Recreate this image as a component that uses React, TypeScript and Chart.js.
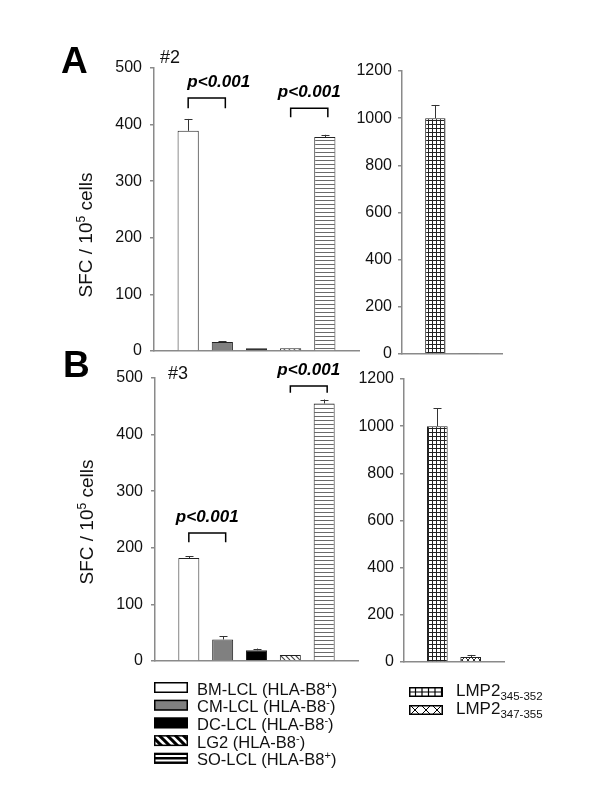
import React, { useEffect, useRef } from 'react';
import { Chart, registerables } from 'chart.js';

Chart.register(...registerables);

const FONT = '"Liberation Sans", Arial, Helvetica, sans-serif';
Chart.defaults.font.family = FONT;

// ---------- data ----------
const cellLines = ['BM-LCL', 'CM-LCL', 'DC-LCL', 'LG2', 'SO-LCL'];
const hlaB8 = ['+', '-', '-', '-', '+'];
const peptides = ['LMP2', 'LMP2'];
const peptideRanges = ['345-352', '347-355'];

const donor2Cells = [389, 16, 5, 5, 378];
const donor2CellsErr = [21, 1.5, 0, 0, 4];
const donor2Peptides = [1000, 4];
const donor2PeptidesErr = [56, 0];

const donor3Cells = [182, 38, 19, 10.6, 455];
const donor3CellsErr = [3.5, 6, 3, 0, 7];
const donor3Peptides = [1000, 21];
const donor3PeptidesErr = [77, 9];

const cellTicks = [0, 100, 200, 300, 400, 500];
const peptideTicks = [0, 200, 400, 600, 800, 1000, 1200];

const pLabel = 'p<0.001';
// brackets: pairs of cell-line indices and their y levels (top, leg end)
const donor2Brackets = [
  { a: 0, b: 1, top: 447, leg: 429 },
  { a: 3, b: 4, top: 429, leg: 413 },
];
const donor3Brackets = [
  { a: 0, b: 1, top: 226, leg: 210 },
  { a: 3, b: 4, top: 486, leg: 474 },
];

// ---------- styles ----------
const cellFills = ['white', 'gray', 'black', 'diag', 'hstripe'];
const peptideFills = ['grid', 'xhatch'];

function tile(ctx: CanvasRenderingContext2D, w: number, h: number, draw: (g: CanvasRenderingContext2D) => void) {
  const c = document.createElement('canvas');
  c.width = w;
  c.height = h;
  const g = c.getContext('2d')!;
  g.fillStyle = '#fff';
  g.fillRect(0, 0, w, h);
  draw(g);
  return ctx.createPattern(c, 'repeat');
}

function makeFill(ctx: CanvasRenderingContext2D, kind: string): any {
  switch (kind) {
    case 'white':
      return '#ffffff';
    case 'gray':
      return '#808080';
    case 'black':
      return '#000000';
    case 'hstripe':
      return tile(ctx, 4, 4, (g) => {
        g.fillStyle = '#6a6a6a';
        g.fillRect(0, 0, 4, 1);
      });
    case 'diag':
      return tile(ctx, 5, 5, (g) => {
        g.strokeStyle = '#444';
        g.lineWidth = 1.2;
        for (let k = -1; k <= 1; k++) {
          g.beginPath();
          g.moveTo(k * 5, 0);
          g.lineTo(k * 5 + 5, 5);
          g.stroke();
        }
      });
    case 'grid':
      return tile(ctx, 4, 4, (g) => {
        g.fillStyle = '#222';
        g.fillRect(0, 0, 4, 1);
        g.fillRect(0, 0, 1, 4);
      });
    case 'xhatch':
      return tile(ctx, 6, 6, (g) => {
        g.strokeStyle = '#333';
        g.lineWidth = 1;
        for (let k = -1; k <= 1; k++) {
          g.beginPath();
          g.moveTo(k * 6, 0);
          g.lineTo(k * 6 + 6, 6);
          g.moveTo(k * 6 + 6, 0);
          g.lineTo(k * 6, 6);
          g.stroke();
        }
      });
  }
  return '#fff';
}

function drawSwatch(ctx: CanvasRenderingContext2D, kind: string, x: number, y: number, w: number, h: number) {
  ctx.save();
  ctx.beginPath();
  ctx.rect(x, y, w, h);
  ctx.clip();
  ctx.fillStyle = kind === 'gray' ? '#808080' : kind === 'black' ? '#000' : '#fff';
  ctx.fillRect(x, y, w, h);
  ctx.strokeStyle = '#000';
  if (kind === 'diag') {
    ctx.lineWidth = 3;
    for (let sx = x - h; sx < x + w + h; sx += 8) {
      ctx.beginPath();
      ctx.moveTo(sx, y);
      ctx.lineTo(sx + h, y + h);
      ctx.stroke();
    }
  } else if (kind === 'hstripe') {
    ctx.lineWidth = 2.5;
    [y + 1, y + h / 2, y + h - 1].forEach((yy) => {
      ctx.beginPath();
      ctx.moveTo(x, yy);
      ctx.lineTo(x + w, yy);
      ctx.stroke();
    });
  } else if (kind === 'grid') {
    ctx.lineWidth = 1.2;
    for (let sx = x + 6.5; sx < x + w; sx += 6.5) {
      ctx.beginPath();
      ctx.moveTo(sx, y);
      ctx.lineTo(sx, y + h);
      ctx.stroke();
    }
    ctx.beginPath();
    ctx.moveTo(x, y + h / 2);
    ctx.lineTo(x + w, y + h / 2);
    ctx.stroke();
  } else if (kind === 'xhatch') {
    ctx.lineWidth = 1;
    for (let sx = x - h; sx < x + w + h; sx += 11) {
      ctx.beginPath();
      ctx.moveTo(sx, y);
      ctx.lineTo(sx + h, y + h);
      ctx.moveTo(sx + h, y);
      ctx.lineTo(sx, y + h);
      ctx.stroke();
    }
  }
  ctx.restore();
  ctx.save();
  ctx.strokeStyle = '#000';
  ctx.lineWidth = 1.5;
  ctx.strokeRect(x + 0.75, y + 0.75, w - 1.5, h - 1.5);
  ctx.restore();
}

function drawParts(ctx: CanvasRenderingContext2D, parts: { t: string; f: string; dy: number }[], x: number, y: number, align: 'left' | 'center') {
  let total = 0;
  parts.forEach((p) => {
    ctx.font = p.f;
    total += ctx.measureText(p.t).width;
  });
  let cx = align === 'center' ? x - total / 2 : x;
  ctx.textAlign = 'left';
  ctx.textBaseline = 'alphabetic';
  parts.forEach((p) => {
    ctx.font = p.f;
    ctx.fillText(p.t, cx, y + p.dy);
    cx += ctx.measureText(p.t).width;
  });
}

const decorPlugin = {
  id: 'decor',
  afterDatasetsDraw(chart: any, _args: any, opts: any) {
    const ctx: CanvasRenderingContext2D = chart.ctx;
    const xs = chart.scales.x;
    const ys = chart.scales.y;
    const meta = chart.getDatasetMeta(0);
    const values = chart.data.datasets[0].data;
    ctx.save();

    // error bars
    (opts.errors || []).forEach((e: number, i: number) => {
      const el = meta.data[i + 1];
      const v = values[i + 1];
      if (!e || !el || v == null) return;
      const yTop = ys.getPixelForValue(v + e);
      const cx = Math.round(el.x) + 0.5;
      ctx.strokeStyle = '#333';
      ctx.lineWidth = 1;
      ctx.beginPath();
      ctx.moveTo(cx, el.y);
      ctx.lineTo(cx, yTop);
      ctx.moveTo(cx - 4, Math.round(yTop) + 0.5);
      ctx.lineTo(cx + 4, Math.round(yTop) + 0.5);
      ctx.stroke();
    });

    // significance brackets
    (opts.brackets || []).forEach((b: any, i: number) => {
      const x1 = xs.getPixelForValue(b.a + 1);
      const x2 = xs.getPixelForValue(b.b + 1) + 3;
      const yt = ys.getPixelForValue(b.top);
      const yl = ys.getPixelForValue(b.leg);
      ctx.strokeStyle = '#000';
      ctx.lineWidth = 1.5;
      ctx.beginPath();
      ctx.moveTo(x1, yl);
      ctx.lineTo(x1, yt);
      ctx.lineTo(x2, yt);
      ctx.lineTo(x2, yl);
      ctx.stroke();
      ctx.fillStyle = '#000';
      ctx.font = `italic bold 17px ${FONT}`;
      ctx.textAlign = 'center';
      ctx.textBaseline = 'alphabetic';
      const dx = (opts.pTextDx || [])[i] || 0;
      ctx.fillText(pLabel, (x1 + x2) / 2 + dx, yt - 11);
    });

    // panel letter and donor label
    ctx.fillStyle = '#000';
    ctx.textAlign = 'left';
    ctx.textBaseline = 'alphabetic';
    if (opts.letter) {
      ctx.font = `bold 37px ${FONT}`;
      ctx.fillText(opts.letter.text, opts.letter.x, opts.letter.y);
    }
    if (opts.run) {
      ctx.font = `18px ${FONT}`;
      ctx.fillStyle = '#111';
      ctx.fillText(opts.run.text, opts.run.x, opts.run.y);
    }

    // y-axis title
    if (opts.yTitle) {
      ctx.save();
      ctx.fillStyle = '#111';
      ctx.translate(opts.yTitle.x, opts.yTitle.y);
      ctx.rotate(-Math.PI / 2);
      drawParts(
        ctx,
        [
          { t: 'SFC / 10', f: `19px ${FONT}`, dy: 0 },
          { t: '5', f: `12px ${FONT}`, dy: -7 },
          { t: ' cells', f: `19px ${FONT}`, dy: 0 },
        ],
        0,
        0,
        'center'
      );
      ctx.restore();
    }

    // legend
    if (opts.legend) {
      const L = opts.legend;
      L.items.forEach((it: any, i: number) => {
        const top = L.y + i * L.dy;
        drawSwatch(ctx, it.kind, L.x, top, L.w, L.h);
        ctx.fillStyle = '#111';
        drawParts(ctx, it.parts, L.tx, top + L.base, 'left');
      });
    }
    ctx.restore();
  },
};

type PanelCfg = {
  labels: string[];
  values: number[];
  fills: string[];
  ticks: number[];
  padding: { left: number; top: number; right: number; bottom: number };
  tickPad: number;
  barPct: number;
  decor: any;
};

function BarPanel({ cfg }: { cfg: PanelCfg }) {
  const ref = useRef<HTMLCanvasElement>(null);
  useEffect(() => {
    const canvas = ref.current!;
    const ctx = canvas.getContext('2d')!;
    const fills = cfg.fills.map((k) => makeFill(ctx, k));
    const chart = new Chart(canvas, {
      type: 'bar',
      data: {
        labels: ['', ...cfg.labels, ''],
        datasets: [
          {
            data: [null, ...cfg.values, null] as any,
            backgroundColor: ['transparent', ...fills, 'transparent'],
            borderColor: '#222',
            borderWidth: 1,
            barPercentage: cfg.barPct,
            categoryPercentage: 1,
          },
        ],
      },
      options: {
        responsive: false,
        animation: false,
        devicePixelRatio: 1,
        events: [],
        layout: { padding: cfg.padding },
        plugins: {
          legend: { display: false },
          tooltip: { enabled: false },
          decor: cfg.decor,
        } as any,
        scales: {
          x: {
            type: 'category',
            offset: false,
            grid: { display: false },
            ticks: { display: false },
            border: { display: true, color: '#8a8a8a', width: 1.5 },
            afterFit: (s: any) => {
              s.height = 0;
            },
          },
          y: {
            min: cfg.ticks[0],
            max: cfg.ticks[cfg.ticks.length - 1],
            afterBuildTicks: (s: any) => {
              s.ticks = cfg.ticks.map((v) => ({ value: v }));
            },
            grid: {
              display: true,
              drawOnChartArea: false,
              drawTicks: true,
              tickLength: 4,
              color: '#8a8a8a',
              lineWidth: 1.5,
            },
            border: { display: true, color: '#8a8a8a', width: 1.5 },
            ticks: {
              font: { size: 16 },
              color: '#111',
              padding: cfg.tickPad,
              callback: (v: any) => String(v),
            },
            afterFit: (s: any) => {
              s.width = 60;
            },
          },
        },
      },
      plugins: [decorPlugin as any],
    });
    return () => chart.destroy();
  }, []);
  return (
    <canvas
      ref={ref}
      width={600}
      height={800}
      style={{ position: 'absolute', left: 0, top: 0, width: 600, height: 800 }}
    />
  );
}

const supF = `11px ${FONT}`;
const legF = `16.5px ${FONT}`;
const cellLegendItems = cellLines.map((name, i) => ({
  kind: cellFills[i],
  parts: [
    { t: `${name} (HLA-B8`, f: legF, dy: 0 },
    { t: hlaB8[i], f: supF, dy: -6 },
    { t: ')', f: legF, dy: 0 },
  ],
}));
const peptideLegendItems = peptides.map((name, i) => ({
  kind: peptideFills[i],
  parts: [
    { t: name, f: `17px ${FONT}`, dy: 0 },
    { t: peptideRanges[i], f: `11.5px ${FONT}`, dy: 4 },
  ],
}));

const panels: PanelCfg[] = [
  {
    labels: cellLines,
    values: donor2Cells,
    fills: cellFills,
    ticks: cellTicks,
    padding: { left: 94, top: 68, right: 241, bottom: 449 },
    tickPad: 8,
    barPct: 0.62,
    decor: {
      errors: donor2CellsErr,
      brackets: donor2Brackets,
      pTextDx: [12, 0],
      letter: { text: 'A', x: 61, y: 73 },
      run: { text: '#2', x: 160, y: 63 },
      yTitle: { x: 92, y: 235 },
    },
  },
  {
    labels: peptides.map((p, i) => `${p} ${peptideRanges[i]}`),
    values: donor2Peptides,
    fills: peptideFills,
    ticks: peptideTicks,
    padding: { left: 342, top: 71, right: 98, bottom: 446 },
    tickPad: 6,
    barPct: 0.61,
    decor: { errors: donor2PeptidesErr },
  },
  {
    labels: cellLines,
    values: donor3Cells,
    fills: cellFills,
    ticks: cellTicks,
    padding: { left: 95, top: 378, right: 242, bottom: 139 },
    tickPad: 8,
    barPct: 0.62,
    decor: {
      errors: donor3CellsErr,
      brackets: donor3Brackets,
      pTextDx: [0, 0],
      letter: { text: 'B', x: 63, y: 377 },
      run: { text: '#3', x: 168, y: 379 },
      yTitle: { x: 93, y: 522 },
      legend: { items: cellLegendItems, x: 154, y: 682, dy: 17.7, w: 34, h: 11, tx: 197, base: 12.5 },
    },
  },
  {
    labels: peptides.map((p, i) => `${p} ${peptideRanges[i]}`),
    values: donor3Peptides,
    fills: peptideFills,
    ticks: peptideTicks,
    padding: { left: 344, top: 379, right: 96, bottom: 138 },
    tickPad: 6,
    barPct: 0.62,
    decor: {
      errors: donor3PeptidesErr,
      legend: { items: peptideLegendItems, x: 409, y: 687, dy: 18, w: 34, h: 10, tx: 456, base: 8.5 },
    },
  },
];

export default function App() {
  return (
    <div style={{ position: 'absolute', left: 0, top: 0, width: 600, height: 800, background: '#fff' }}>
      {panels.map((p, i) => (
        <BarPanel key={i} cfg={p} />
      ))}
    </div>
  );
}
